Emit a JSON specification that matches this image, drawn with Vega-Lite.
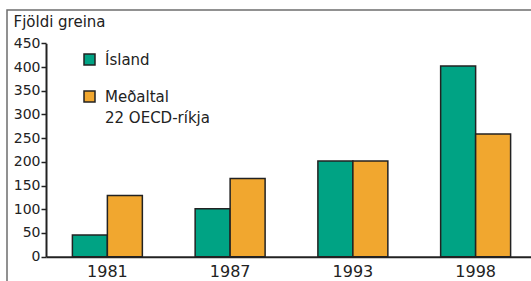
{
  "$schema": "https://vega.github.io/schema/vega-lite/v6.json",
  "autosize": "none",
  "padding": {"left": 7, "top": 10, "right": 0, "bottom": 0},
  "width": 540,
  "height": 300,
  "background": "white",
  "config": {
    "view": {"stroke": "#6e6e6e", "strokeWidth": 1.5},
    "font": "DejaVu Sans",
    "style": {"guide-label": {"lineHeight": 21}}
  },
  "data": {
    "values": [
      {"year": "1981", "series": "Ísland", "value": 46},
      {"year": "1981", "series": "Meðaltal", "value": 129},
      {"year": "1987", "series": "Ísland", "value": 101},
      {"year": "1987", "series": "Meðaltal", "value": 165},
      {"year": "1993", "series": "Ísland", "value": 202},
      {"year": "1993", "series": "Meðaltal", "value": 202},
      {"year": "1998", "series": "Ísland", "value": 402},
      {"year": "1998", "series": "Meðaltal", "value": 259}
    ]
  },
  "mark": {"type": "bar", "stroke": "#222222", "strokeWidth": 1.5},
  "encoding": {
    "x": {
      "field": "year", "type": "nominal",
      "scale": {"range": [39, 530], "paddingInner": 0.43, "paddingOuter": 0.215},
      "axis": {
        "title": null, "orient": "bottom", "offset": -53.3,
        "labelAngle": 0, "ticks": false, "labelPadding": 7,
        "labelFont": "DejaVu Sans", "labelFontSize": 16, "labelColor": "#222222",
        "domainColor": "#222222", "domainWidth": 2
      }
    },
    "xOffset": {"field": "series", "type": "nominal", "sort": ["Ísland", "Meðaltal"], "scale": {"domain": ["Ísland", "Meðaltal"], "paddingInner": 0, "paddingOuter": 0}},
    "y": {
      "field": "value", "type": "quantitative",
      "scale": {"domain": [0, 450], "range": [246.7, 33.3], "nice": false, "zero": true},
      "axis": {
        "orient": "left", "offset": -39,
        "values": [0, 50, 100, 150, 200, 250, 300, 350, 400, 450],
        "grid": false, "tickSize": 5, "tickColor": "#222222", "tickWidth": 1.5,
        "labelPadding": 1, "labelFont": "DejaVu Sans", "labelFontSize": 14, "labelColor": "#222222",
        "domainColor": "#222222", "domainWidth": 2,
        "title": "Fjöldi greina", "titleAngle": 0, "titleAlign": "left", "titleBaseline": "alphabetic",
        "titleX": -33, "titleY": 16.5, "titleFont": "DejaVu Sans", "titleFontSize": 15,
        "titleFontWeight": "normal", "titleColor": "#222222"
      }
    },
    "color": {
      "field": "series", "type": "nominal",
      "scale": {"domain": ["Ísland", "Meðaltal"], "range": ["#00A384", "#F1A72F"]},
      "legend": {
        "title": null, "orient": "none", "legendX": 75, "legendY": 42,
        "padding": 0, "symbolType": "square", "symbolSize": 121,
        "symbolStrokeColor": "#222222", "symbolStrokeWidth": 1.5, "symbolOpacity": 1,
        "labelFont": "DejaVu Sans", "labelFontSize": 15, "labelColor": "#222222",
        "labelOffset": 8, "rowPadding": 20, "labelBaseline": "middle",
        "labelExpr": "datum.label == 'Meðaltal' ? ['Meðaltal', '22 OECD-ríkja'] : datum.label",
        "labelLimit": 300
      }
    }
  }
}
